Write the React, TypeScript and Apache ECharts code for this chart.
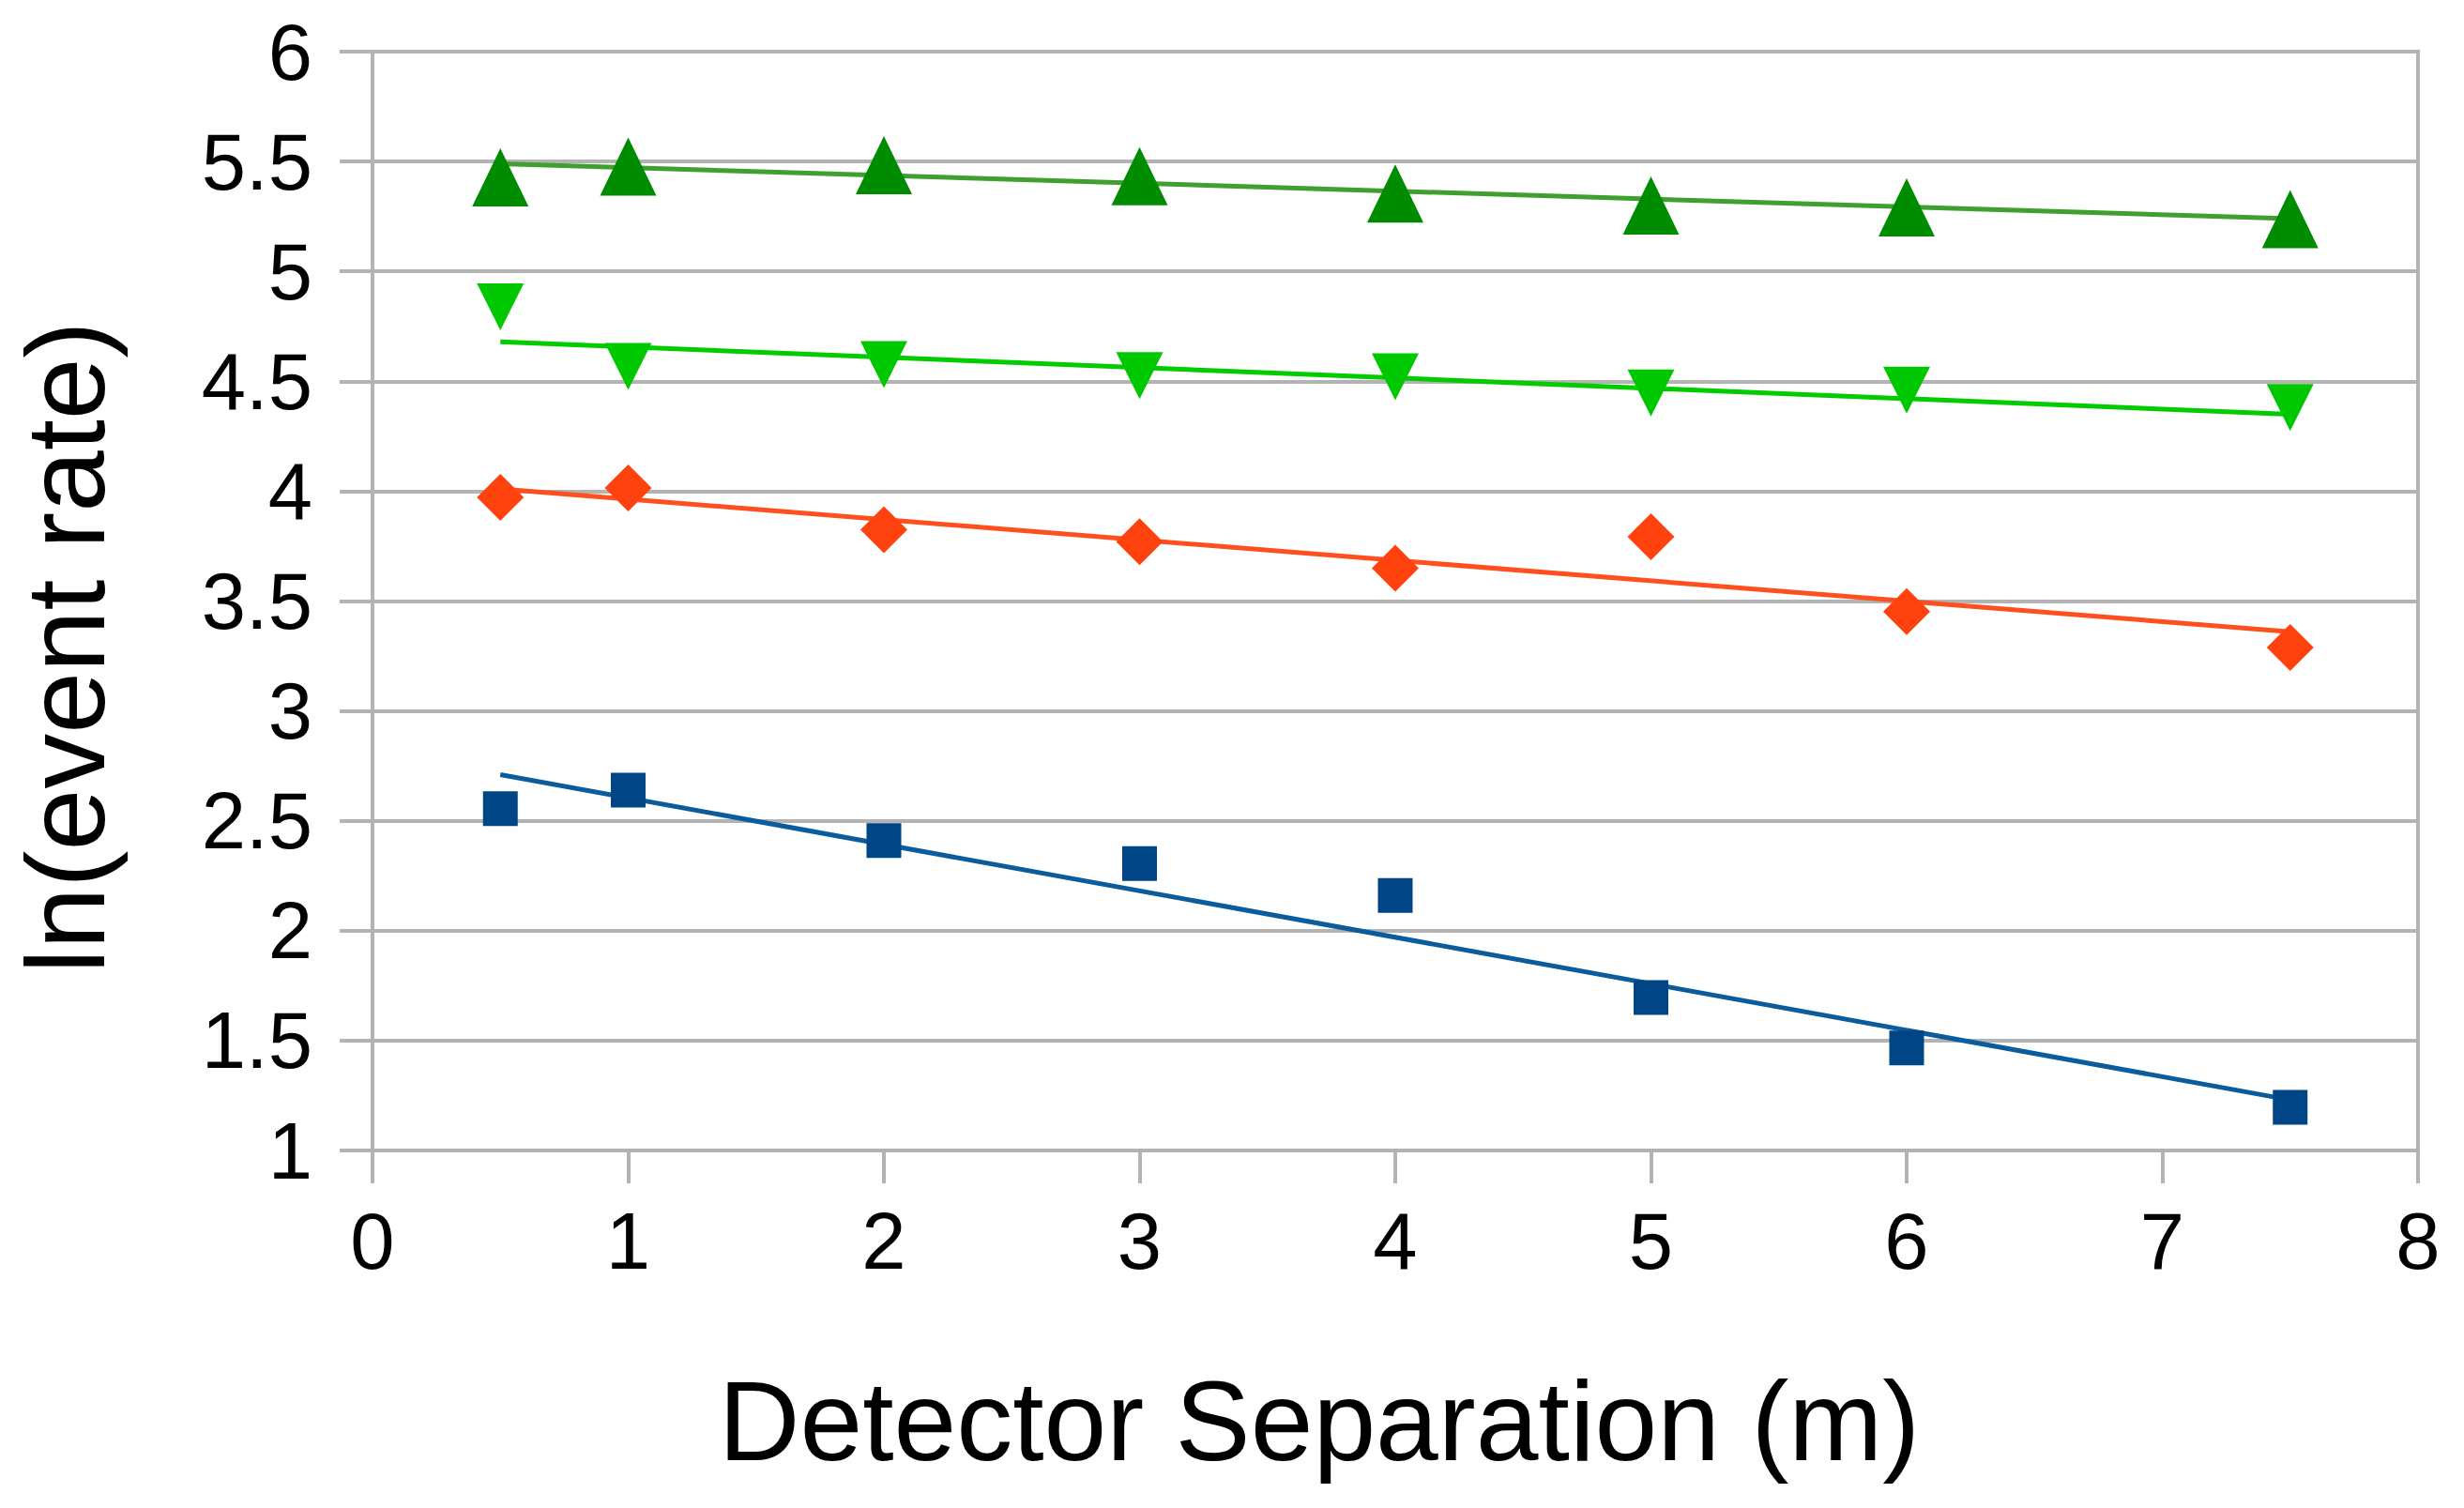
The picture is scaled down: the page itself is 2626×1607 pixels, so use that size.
import React, { useEffect, useRef } from "react";
import * as echarts from "echarts";

// detector separation (m)
const separations = [0.5, 1, 2, 3, 4, 5, 6, 7.5];

// ln(event rate) per series
const squareRates = [2.555, 2.64, 2.41, 2.305, 2.16, 1.696, 1.467, 1.196];
const diamondRates = [3.972, 4.015, 3.825, 3.77, 3.649, 3.793, 3.452, 3.289];
const downTriRates = [4.839, 4.567, 4.576, 4.526, 4.521, 4.447, 4.46, 4.381];
const upTriRates = [5.428, 5.477, 5.483, 5.433, 5.354, 5.3, 5.291, 5.238];

// linear trend lines, start / end values
const trendX = [0.5, 7.5];
const squareTrend = [2.71, 1.23];
const diamondTrend = [4.01, 3.36];
const downTriTrend = [4.68, 4.35];
const upTriTrend = [5.49, 5.24];

const FONT = "'Liberation Sans', Arial, sans-serif";
const GRID_COLOR = "#b3b3b3";

const pairs = (xs: number[], ys: number[]) => xs.map((x, i) => [x, ys[i]]);

const App: React.FC = () => {
  const chartRef = useRef<HTMLDivElement>(null);

  useEffect(() => {
    document.body.style.margin = "0";
    if (!chartRef.current) return;
    const chart = echarts.init(chartRef.current, undefined, { renderer: "svg" });

    const scatter = (name: string, ys: number[], color: string, symbol: string, size: number | number[], rotate = 0) => ({
      name,
      type: "scatter",
      data: pairs(separations, ys),
      symbol,
      symbolSize: size,
      symbolRotate: rotate,
      itemStyle: { color, opacity: 1 },
      z: 5,
    });

    const trend = (name: string, ys: number[], color: string) => ({
      name,
      type: "line",
      data: pairs(trendX, ys),
      showSymbol: false,
      symbol: "none",
      lineStyle: { color, width: 5 },
      z: 3,
    });

    const option: echarts.EChartsOption = {
      animation: false,
      backgroundColor: "#ffffff",
      grid: {
        left: 397,
        right: 49,
        top: 55,
        bottom: 381,
        show: true,
        borderColor: GRID_COLOR,
        borderWidth: 4,
      },
      xAxis: {
        type: "value",
        min: 0,
        max: 8,
        interval: 1,
        axisLine: { show: true, lineStyle: { color: GRID_COLOR, width: 4 } },
        axisTick: { show: true, length: 35, lineStyle: { color: GRID_COLOR, width: 4 } },
        splitLine: { show: false },
        axisLabel: { color: "#000", fontSize: 85, fontFamily: FONT, margin: 54 },
      },
      yAxis: {
        type: "value",
        min: 1,
        max: 6,
        interval: 0.5,
        axisLine: { show: true, lineStyle: { color: GRID_COLOR, width: 4 } },
        axisTick: { show: true, length: 35, lineStyle: { color: GRID_COLOR, width: 4 } },
        splitLine: { show: true, lineStyle: { color: GRID_COLOR, width: 4 } },
        axisLabel: { color: "#000", fontSize: 85, fontFamily: FONT, margin: 64 },
      },
      graphic: [
        {
          type: "text",
          x: 1406,
          y: 1514,
          style: {
            text: "Detector Separation (m)",
            fontSize: 120,
            fontFamily: FONT,
            fill: "#000",
            textAlign: "center",
            textVerticalAlign: "middle",
          },
        },
        {
          type: "text",
          x: 70,
          y: 690,
          rotation: Math.PI / 2,
          style: {
            text: "ln(event rate)",
            fontSize: 118,
            fontFamily: FONT,
            fill: "#000",
            textAlign: "center",
            textVerticalAlign: "middle",
          },
        },
      ],
      series: [
        trend("square trend", squareTrend, "#0b5c9c"),
        trend("diamond trend", diamondTrend, "#ff4f1e"),
        trend("down trend", downTriTrend, "#00cc00"),
        trend("up trend", upTriTrend, "#3f9f2f"),
        scatter("square", squareRates, "#004586", "rect", 37),
        scatter("diamond", diamondRates, "#ff420e", "diamond", [50, 50]),
        scatter("down triangle", downTriRates, "#00c800", "triangle", [50, 50], 180),
        scatter("up triangle", upTriRates, "#008c00", "triangle", [60, 62]),
      ] as any,
    };

    chart.setOption(option);
    return () => {
      chart.dispose();
    };
  }, []);

  return <div ref={chartRef} style={{ width: "2626px", height: "1607px" }} />;
};

export default App;
